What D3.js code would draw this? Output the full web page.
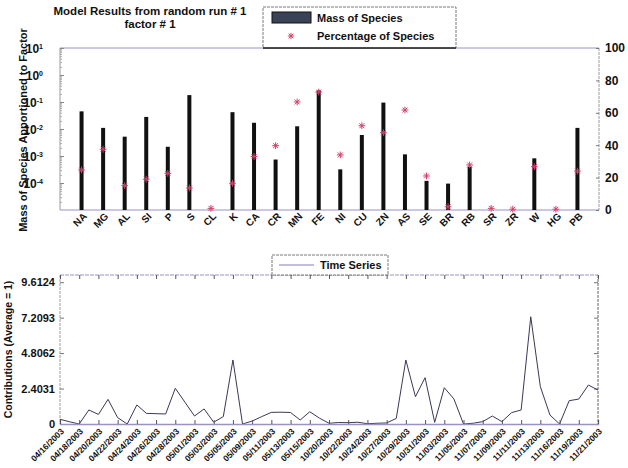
<!DOCTYPE html>
<html>
<head>
<meta charset="utf-8">
<script src="https://cdn.jsdelivr.net/npm/d3@7"></script>
<style>
  body { margin: 0; background: #fff; }
  text { font-family: "Liberation Sans", Arial, sans-serif; font-weight: bold; fill: #111; }
</style>
</head>
<body>
<svg id="chart" width="628" height="468"></svg>
<script>
// ---- Species profile (factor 1) ----
const species = ["NA","MG","AL","SI","P","S","CL","K","CA","CR","MN","FE",
                 "NI","CU","ZN","AS","SE","BR","RB","SR","ZR","W","HG","PB"];
const speciesMass = [0.045, 0.011, 0.0052, 0.028, 0.0022, 0.18, 0, 0.042, 0.017, 0.00074, 0.0126, 0.27,
                     0.00032, 0.006, 0.095, 0.00115, 0.00012, 0.000095, 0.0004, 0, 0, 0.00082, 0, 0.011];
const speciesPercent = [24.7, 37.5, 15, 19, 22.6, 13.6, 1, 16.5, 33, 39.7, 66.7, 72.8,
                        34, 52, 47.7, 61.7, 21, 2, 27.8, 1, 0.5, 26.7, 0.5, 24];
const massTickExponents = [1, 0, -1, -2, -3, -4];
const percentTicks = [0, 20, 40, 60, 80, 100];

// ---- Factor contributions time series ----
const sampleDateLabels = ["04/16/2003","04/18/2003","04/20/2003","04/22/2003","04/24/2003","04/26/2003",
  "04/28/2003","05/01/2003","05/03/2003","05/05/2003","05/09/2003","05/11/2003","05/13/2003","05/15/2003",
  "10/20/2003","10/22/2003","10/24/2003","10/27/2003","10/29/2003","10/31/2003","11/03/2003","11/05/2003",
  "11/07/2003","11/09/2003","11/11/2003","11/13/2003","11/16/2003","11/19/2003","11/21/2003"];
const contributions = [0.32, 0.15, 0.0, 0.95, 0.65, 1.67, 0.43, 0.0, 1.29, 0.72, 0.7, 0.68,
  2.42, 1.48, 0.54, 1.02, 0.12, 0.5, 4.34, 0.0, 0.2, 0.5, 0.79, 0.8, 0.78, 0.27, 0.83, 0.4,
  0.05, 0.1, 0.09, 0.12, 0.02, 0.05, 0.07, 0.38, 4.34, 1.85, 3.14, 0.11, 2.46, 1.7, 0.0,
  0.05, 0.16, 0.54, 0.16, 0.77, 0.95, 7.27, 2.53, 0.61, 0.0, 1.58, 1.69, 2.64, 2.3];
const contributionTicks = [0, 2.4031, 4.8062, 7.2093, 9.6124];

const svg = d3.select("#chart");
const frameColor = "#9a92c4";
const axisGray = "#9a9a9a";

// ================= Top panel =================
const topBox = { l: 60, r: 599, t: 48, b: 210 };
const xCat = d3.scaleLinear().domain([0, species.length + 1]).range([topBox.l, topBox.r]);
const yMass = d3.scaleLog().domain([1e-5, 10]).range([topBox.b, topBox.t]);
const yPct = d3.scaleLinear().domain([0, 100]).range([topBox.b, topBox.t]);

// frame
svg.append("line").attr("x1", topBox.l).attr("x2", topBox.r).attr("y1", topBox.t).attr("y2", topBox.t)
  .attr("stroke", frameColor).attr("stroke-width", 1);
svg.append("line").attr("x1", topBox.l).attr("x2", topBox.r).attr("y1", topBox.b).attr("y2", topBox.b)
  .attr("stroke", frameColor).attr("stroke-width", 1.2);
svg.append("line").attr("x1", topBox.l).attr("x2", topBox.l).attr("y1", topBox.t).attr("y2", topBox.b)
  .attr("stroke", axisGray);
svg.append("line").attr("x1", topBox.r).attr("x2", topBox.r).attr("y1", topBox.t).attr("y2", topBox.b)
  .attr("stroke", axisGray).attr("stroke-dasharray", "3,1");

// left log axis
const massTicks = massTickExponents.map(e => Math.pow(10, e));
const minorTicks = [];
for (let e = -5; e < 1; e++) for (let m = 2; m <= 9; m++) minorTicks.push(m * Math.pow(10, e));
const gLeft = svg.append("g").attr("transform", `translate(${topBox.l},0)`);
gLeft.call(d3.axisLeft(yMass).tickValues(minorTicks).tickSize(-2).tickFormat(""))
  .call(g => g.select(".domain").remove())
  .call(g => g.selectAll(".tick line").attr("stroke", "#aaa"));
const gLeftMajor = svg.append("g").attr("transform", `translate(${topBox.l},0)`);
gLeftMajor.call(d3.axisLeft(yMass).tickValues(massTicks).tickSize(-4).tickPadding(9).tickFormat(""))
  .call(g => g.select(".domain").remove())
  .call(g => g.selectAll(".tick line").attr("stroke", "#888"));
gLeftMajor.selectAll(".tick text")
  .style("font-size", "12px").attr("x", -17).attr("dy", "0.4em")
  .each(function (d) {
    const t = d3.select(this);
    t.text("10");
    t.append("tspan").attr("dy", "-0.55em").style("font-size", "7px")
      .text(Math.round(Math.log10(d)));
  });

// right percentage axis
const gRight = svg.append("g").attr("transform", `translate(${topBox.r},0)`);
gRight.call(d3.axisRight(yPct).tickValues(percentTicks).tickSize(-3).tickPadding(6))
  .call(g => g.select(".domain").remove())
  .call(g => g.selectAll(".tick line").attr("stroke", "#777"))
  .call(g => g.selectAll(".tick text").style("font-size", "12px"));

// mass bars
svg.append("g").selectAll("rect")
  .data(species.map((s, i) => ({ s, i, v: speciesMass[i] })).filter(d => d.v > 1e-5))
  .join("rect")
  .attr("x", d => xCat(d.i + 1) - 2)
  .attr("width", 4)
  .attr("y", d => yMass(d.v))
  .attr("height", d => topBox.b - yMass(d.v))
  .attr("fill", "#111");

// percentage stars
const starPath = r => {
  const k = r * 0.72;
  return `M${-r},0H${r}M0,${-r}V${r}M${-k},${-k}L${k},${k}M${-k},${k}L${k},${-k}`;
};
svg.append("g").selectAll("path")
  .data(speciesPercent)
  .join("path")
  .attr("transform", (d, i) => `translate(${xCat(i + 1)},${yPct(d)})`)
  .attr("d", starPath(3.4))
  .attr("stroke", "#d0406a")
  .attr("stroke-width", 1)
  .attr("fill", "none");

// category labels
svg.append("g").selectAll("text")
  .data(species)
  .join("text")
  .attr("transform", (d, i) => `translate(${xCat(i + 1) + 6},${topBox.b + 7}) rotate(-45)`)
  .attr("text-anchor", "end")
  .style("font-size", "10px")
  .text(d => d);

// titles
svg.append("text").attr("x", 150).attr("y", 15).attr("text-anchor", "middle")
  .style("font-size", "11.5px").text("Model Results from random run # 1");
svg.append("text").attr("x", 150).attr("y", 28).attr("text-anchor", "middle")
  .style("font-size", "11.5px").text("factor # 1");
svg.append("text").attr("transform", "translate(27,130) rotate(-90)")
  .attr("text-anchor", "middle").style("font-size", "11px")
  .text("Mass of Species Apportioned to Factor");

// top legend
const lg = svg.append("g");
lg.append("rect").attr("x", 263).attr("y", 7).attr("width", 193).attr("height", 41)
  .attr("fill", "#fff").attr("stroke", "#555").attr("stroke-width", 0.8).attr("stroke-dasharray", "3,1");
lg.append("line").attr("x1", 263).attr("x2", 456).attr("y1", 48).attr("y2", 48)
  .attr("stroke", "#222").attr("stroke-width", 1.4);
lg.append("rect").attr("x", 272).attr("y", 12).attr("width", 39).attr("height", 11)
  .attr("fill", "#3a4256").attr("stroke", "#111");
lg.append("text").attr("x", 317).attr("y", 22).style("font-size", "11px").text("Mass of Species");
lg.append("path").attr("transform", "translate(291,36)").attr("d", starPath(3.2))
  .attr("stroke", "#d0406a").attr("stroke-width", 1).attr("fill", "none");
lg.append("text").attr("x", 317).attr("y", 40).style("font-size", "11px").text("Percentage of Species");

// ================= Bottom panel =================
const botBox = { l: 60, r: 598, t: 275, b: 424 };
const xIdx = d3.scaleLinear().domain([0, contributions.length - 1]).range([botBox.l, botBox.r]);
const yCon = d3.scaleLinear().domain([0, 10.1]).range([botBox.b, botBox.t]);
const labelIdx = sampleDateLabels.map((_, i) => i * 2);

svg.append("line").attr("x1", botBox.l).attr("x2", botBox.r).attr("y1", botBox.t).attr("y2", botBox.t)
  .attr("stroke", frameColor).attr("stroke-dasharray", "4,1");
svg.append("line").attr("x1", botBox.l).attr("x2", botBox.l).attr("y1", botBox.t).attr("y2", botBox.b)
  .attr("stroke", axisGray).attr("stroke-dasharray", "3,1");
svg.append("line").attr("x1", botBox.r).attr("x2", botBox.r).attr("y1", botBox.t).attr("y2", botBox.b)
  .attr("stroke", "#666").attr("stroke-dasharray", "3,1");

// y axis (left) with labels, mirrored ticks on right
svg.append("g").attr("transform", `translate(${botBox.l},0)`)
  .call(d3.axisLeft(yCon).tickValues(contributionTicks).tickSize(-4).tickPadding(5)
    .tickFormat(d => d === 0 ? "0" : d3.format(".4f")(d)))
  .call(g => g.select(".domain").remove())
  .call(g => g.selectAll(".tick line").attr("stroke", "#777"))
  .call(g => g.selectAll(".tick text").style("font-size", "11px"));
svg.append("g").attr("transform", `translate(${botBox.r},0)`)
  .call(d3.axisRight(yCon).tickValues(contributionTicks).tickSize(-4).tickFormat(""))
  .call(g => g.select(".domain").remove())
  .call(g => g.selectAll(".tick line").attr("stroke", "#777"));

// x ticks on top edge
svg.append("g").attr("transform", `translate(0,${botBox.t})`)
  .call(d3.axisTop(xIdx).tickValues(labelIdx).tickSize(-4).tickFormat(""))
  .call(g => g.select(".domain").remove())
  .call(g => g.selectAll(".tick line").attr("stroke", "#555"));

// time series line
svg.append("path")
  .datum(contributions)
  .attr("d", d3.line().x((d, i) => xIdx(i)).y(d => yCon(d)))
  .attr("fill", "none")
  .attr("stroke", "#3e3658")
  .attr("stroke-width", 1);

// bottom axis with date labels
const gBx = svg.append("g").attr("transform", `translate(0,${botBox.b})`)
  .call(d3.axisBottom(xIdx).tickValues(labelIdx).tickSize(-4).tickPadding(0)
    .tickFormat((d, i) => sampleDateLabels[i]));
gBx.select(".domain").attr("stroke", frameColor).attr("stroke-width", 1.4);
gBx.selectAll(".tick line").attr("stroke", "#555");
gBx.selectAll(".tick text")
  .style("font-size", "8.5px")
  .attr("text-anchor", "end")
  .attr("y", 0).attr("dy", 0)
  .attr("transform", "translate(4,8) rotate(-45)");

svg.append("text").attr("transform", `translate(12,${(botBox.t + botBox.b) / 2}) rotate(-90)`)
  .attr("text-anchor", "middle").style("font-size", "10.5px")
  .text("Contributions (Average = 1)");

// bottom legend
const lg2 = svg.append("g");
lg2.append("rect").attr("x", 272).attr("y", 255).attr("width", 116).attr("height", 20)
  .attr("fill", "#fff").attr("stroke", "#555").attr("stroke-width", 0.8).attr("stroke-dasharray", "3,1");
lg2.append("line").attr("x1", 279).attr("x2", 314).attr("y1", 265).attr("y2", 265)
  .attr("stroke", "#8a7cc0").attr("stroke-width", 1.2);
lg2.append("text").attr("x", 320).attr("y", 269).style("font-size", "11px").text("Time Series");
</script>
</body>
</html>
